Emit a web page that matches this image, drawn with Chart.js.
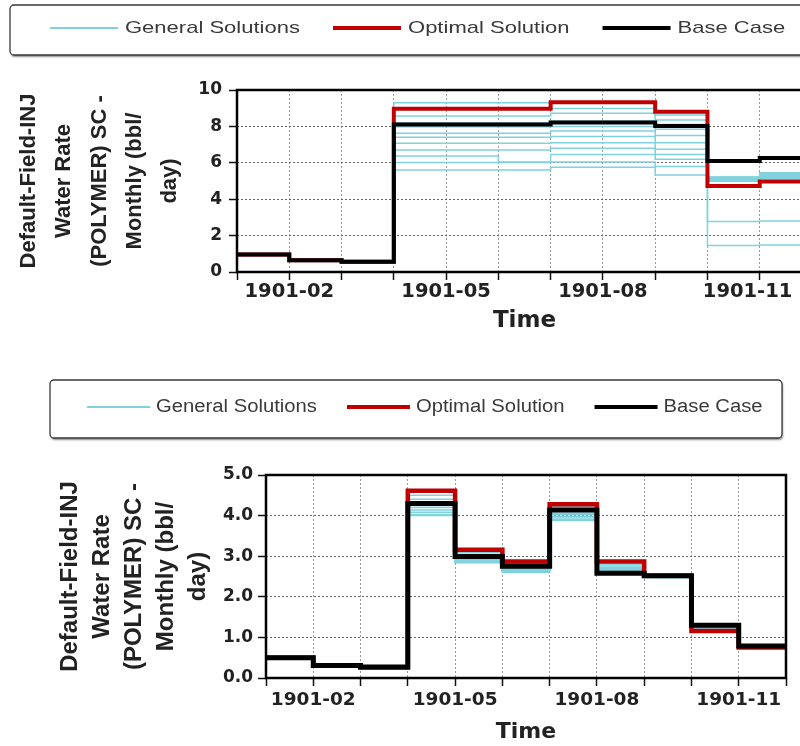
<!DOCTYPE html>
<html>
<head>
<meta charset="utf-8">
<script src="https://cdn.jsdelivr.net/npm/chart.js@4.4.1/dist/chart.umd.min.js"></script>
<style>
  html, body { margin: 0; padding: 0; background: #fff; overflow: hidden; width: 800px; height: 746px; }
  canvas { position: absolute; left: 0; }
  #upper { top: 0; }
  #lower { top: 370px; }
</style>
</head>
<body>
<canvas id="upper" width="840" height="345" style="width:840px;height:345px"></canvas>
<canvas id="lower" width="800" height="376" style="width:800px;height:376px"></canvas>
<script>
// ---- axis labels and names ----
const months = ['1901-01', '1901-02', '1901-03', '1901-04', '1901-05', '1901-06',
                '1901-07', '1901-08', '1901-09', '1901-10', '1901-11', '1901-12'];
const labeledMonths = ['1901-02', '1901-05', '1901-08', '1901-11'];
const legendNames = ['General Solutions', 'Optimal Solution', 'Base Case'];
const yTitleLines = ['Default-Field-INJ', 'Water Rate', '(POLYMER) SC -', 'Monthly (bbl/', 'day)'];
const xTitleText = 'Time';

// ---- upper panel: monthly rates, Jan..Nov (bbl/day) ----
const upperBase    = [0.96, 0.65, 0.57, 8.10, 8.10, 8.10, 8.22, 8.22, 8.02, 6.10, 6.27];
const upperOptimal = [0.96, 0.65, 0.57, 8.97, 8.97, 8.97, 9.33, 9.33, 8.80, 4.73, 4.97];
const upperGeneral = [
  [0.96, 0.65, 0.57, 9.30, 9.30, 9.30, 8.98, 8.98, 8.62, 5.20, 5.40],
  [0.96, 0.65, 0.57, 8.57, 8.57, 8.57, 8.72, 8.72, 8.35, 5.10, 5.30],
  [0.96, 0.65, 0.57, 8.20, 8.20, 8.20, 8.30, 8.30, 8.10, 5.22, 5.45],
  [0.96, 0.65, 0.57, 7.98, 7.98, 7.98, 8.00, 8.00, 7.85, 5.05, 5.25],
  [0.96, 0.65, 0.57, 7.62, 7.62, 7.62, 7.75, 7.75, 7.50, 5.00, 5.20],
  [0.96, 0.65, 0.57, 7.40, 7.40, 7.40, 7.45, 7.45, 7.10, 5.15, 5.35],
  [0.96, 0.65, 0.57, 7.07, 7.07, 7.07, 7.10, 7.10, 6.75, 4.98, 5.12],
  [0.96, 0.65, 0.57, 6.70, 6.70, 6.70, 6.80, 6.80, 6.45, 5.08, 5.18],
  [0.96, 0.65, 0.57, 6.37, 6.37, 6.05, 6.45, 6.45, 6.20, 5.12, 5.28],
  [0.96, 0.65, 0.57, 6.01, 6.01, 6.01, 6.05, 6.05, 5.80, 2.77, 2.80],
  [0.96, 0.65, 0.57, 5.60, 5.60, 5.60, 5.75, 5.75, 5.33, 1.45, 1.48]
];

// ---- lower panel: monthly rates, Jan..Nov (bbl/day) ----
const lowerBase    = [0.50, 0.31, 0.27, 4.30, 2.99, 2.75, 4.14, 2.58, 2.52, 1.30, 0.79];
const lowerOptimal = [0.50, 0.30, 0.26, 4.61, 3.16, 2.87, 4.28, 2.87, 2.52, 1.16, 0.75];
const lowerGeneral = [
  [0.50, 0.31, 0.27, 4.50, 3.10, 2.82, 4.22, 2.80, 2.53, 1.22, 0.78],
  [0.50, 0.31, 0.27, 4.40, 3.05, 2.78, 4.10, 2.76, 2.51, 1.20, 0.76],
  [0.50, 0.31, 0.27, 4.25, 2.95, 2.70, 4.06, 2.70, 2.49, 1.26, 0.80],
  [0.50, 0.31, 0.27, 4.20, 2.92, 2.68, 4.02, 2.72, 2.50, 1.25, 0.80],
  [0.50, 0.31, 0.27, 4.14, 2.90, 2.65, 3.98, 2.68, 2.49, 1.27, 0.78],
  [0.50, 0.31, 0.27, 4.08, 2.88, 2.63, 3.94, 2.65, 2.48, 1.24, 0.77],
  [0.50, 0.31, 0.27, 4.03, 2.86, 2.62, 3.90, 2.62, 2.50, 1.28, 0.79],
  [0.50, 0.31, 0.27, 4.00, 2.84, 2.60, 3.88, 2.60, 2.47, 1.29, 0.81]
];

// ---- styling ----
const GENERAL_COLOR = '#7fd2de';
const OPTIMAL_COLOR = '#c00000';
const BASE_COLOR = '#000000';
const TEXT_COLOR = '#222222';

// Each month's value is held until the next month starts.
function stepPoints(values) {
  const pts = values.map((v, i) => ({ x: i, y: v }));
  pts.push({ x: values.length, y: values[values.length - 1] });
  return pts;
}

// Frame around the plot plus the boxed legend above it.
const panelDecor = {
  id: 'panelDecor',
  afterDraw(chart, args, opts) {
    const ctx = chart.ctx;
    const a = chart.chartArea;
    ctx.save();
    ctx.lineWidth = opts.frameWidth;
    ctx.strokeStyle = '#000';
    ctx.strokeRect(a.left, a.top, a.right - a.left, a.bottom - a.top);
    ctx.restore();

    const L = opts.legend;
    const [bx, by, bw, bh] = L.box;
    const r = 4;
    ctx.save();
    ctx.beginPath();
    ctx.moveTo(bx + r, by);
    ctx.arcTo(bx + bw, by, bx + bw, by + bh, r);
    ctx.arcTo(bx + bw, by + bh, bx, by + bh, r);
    ctx.arcTo(bx, by + bh, bx, by, r);
    ctx.arcTo(bx, by, bx + bw, by, r);
    ctx.closePath();
    ctx.shadowColor = 'rgba(0,0,0,0.45)';
    ctx.shadowOffsetX = 1;
    ctx.shadowOffsetY = 2;
    ctx.shadowBlur = 2;
    ctx.fillStyle = '#fff';
    ctx.fill();
    ctx.shadowColor = 'transparent';
    ctx.lineWidth = 1.3;
    ctx.strokeStyle = '#3a3a3a';
    ctx.stroke();

    const ds = chart.data.datasets;
    const samples = [
      ds.find(d => d.role === 'general'),
      ds.find(d => d.role === 'optimal'),
      ds.find(d => d.role === 'base')
    ];
    let x = L.start;
    samples.forEach((d, i) => {
      ctx.beginPath();
      ctx.moveTo(x, L.y);
      ctx.lineTo(x + L.lineLen, L.y);
      ctx.lineWidth = d.role === 'general' ? 2 : 4;
      ctx.strokeStyle = d.borderColor;
      ctx.stroke();
      x += L.lineLen + L.gap;
      ctx.save();
      ctx.translate(x, L.y);
      ctx.scale(L.sx, 1);
      ctx.font = L.font + 'px "Liberation Sans", Arial, sans-serif';
      ctx.fillStyle = '#3a3a3a';
      ctx.textBaseline = 'middle';
      ctx.fillText(legendNames[i], 0, 0);
      const w = ctx.measureText(legendNames[i]).width * L.sx;
      ctx.restore();
      x += w + L.spacing;
    });
    ctx.restore();
  }
};

function makePanel(canvasId, base, optimal, general, p) {
  const datasets = [
    { role: 'base', label: legendNames[2], data: stepPoints(base), borderColor: BASE_COLOR,
      borderWidth: p.baseWidth, order: 0 },
    { role: 'optimal', label: legendNames[1], data: stepPoints(optimal), borderColor: OPTIMAL_COLOR,
      borderWidth: p.optWidth, order: 1 }
  ];
  general.forEach((g, i) => datasets.push({
    role: 'general', label: legendNames[0], data: stepPoints(g), borderColor: GENERAL_COLOR,
    borderWidth: 1.5, order: 2
  }));
  datasets.forEach(d => {
    d.stepped = 'before';
    d.pointRadius = 0;
    d.fill = false;
    d.borderJoinStyle = 'miter';
    d.borderCapStyle = 'butt';
  });

  return new Chart(document.getElementById(canvasId), {
    type: 'line',
    data: { datasets },
    plugins: [panelDecor],
    options: {
      responsive: false,
      animation: false,
      events: [],
      layout: { padding: p.pad },
      plugins: {
        legend: { display: false },
        tooltip: { enabled: false },
        panelDecor: { frameWidth: 2.5, legend: p.legend }
      },
      scales: {
        x: {
          type: 'linear', min: 0, max: months.length - 1,
          afterFit: s => { s.height = p.xHeight; },
          border: { display: false, dash: [2, 2] },
          grid: { color: '#9a9a9a', lineWidth: 1, tickLength: 8, tickColor: '#111', tickWidth: 1.5 },
          ticks: {
            stepSize: 1, autoSkip: false, maxRotation: 0, padding: p.xTickPad, color: TEXT_COLOR,
            font: { family: '"DejaVu Sans", sans-serif', weight: 'bold', size: p.xTickFont },
            callback: v => {
              if (!labeledMonths.includes(months[v])) return '';
              // the last label is nudged left so it stays inside the page edge
              return v === p.nudgeIndex ? months[v] + '   \u2009' : months[v];
            }
          },
          title: {
            display: true, text: xTitleText, color: TEXT_COLOR, padding: { top: 0, bottom: 0 },
            font: { family: '"DejaVu Sans", sans-serif', weight: 'bold', size: p.xTitleFont }
          }
        },
        y: {
          min: 0, max: p.yMax,
          afterFit: s => { s.width = p.yWidth; },
          border: { display: false, dash: [2, 2] },
          grid: { color: '#666666', lineWidth: 1, tickLength: 8, tickColor: '#111', tickWidth: 1.5 },
          ticks: {
            stepSize: p.yStep, padding: p.yTickPad, color: TEXT_COLOR,
            font: { family: '"DejaVu Sans", sans-serif', weight: 'bold', size: p.yTickFont },
            callback: p.yFormat
          },
          title: {
            display: true, text: yTitleLines, color: TEXT_COLOR,
            padding: { top: p.yTitlePad, bottom: 0 },
            font: { family: '"Liberation Sans", Arial, sans-serif', weight: 'bold',
                    size: p.yTitleFont, lineHeight: p.yTitleLH }
          }
        }
      }
    }
  });
}

makePanel('upper', upperBase, upperOptimal, upperGeneral, {
  pad: { top: 90, right: 28, bottom: 10, left: 0 },
  yWidth: 237, xHeight: 63, yMax: 10, yStep: 1,
  yFormat: v => (v % 2 === 0 ? String(v) : ''),
  yTickFont: 17, xTickFont: 19.5, xTickPad: 0, yTickPad: 7, nudgeIndex: 10,
  xTitleFont: 23, yTitleFont: 22, yTitleLH: 1.61, yTitlePad: 11,
  baseWidth: 4, optWidth: 4,
  legend: { box: [10, 5, 820, 50], y: 28, start: 50, lineLen: 68, gap: 7, spacing: 33, font: 17, sx: 1.295 }
});

makePanel('lower', lowerBase, lowerOptimal, lowerGeneral, {
  pad: { top: 105, right: 14, bottom: 1, left: 0 },
  yWidth: 266, xHeight: 67, yMax: 5, yStep: 0.5,
  yFormat: v => (Number.isInteger(v) ? v.toFixed(1) : ''),
  yTickFont: 17, xTickFont: 18.5, xTickPad: 3, yTickPad: 5, nudgeIndex: -1,
  xTitleFont: 22, yTitleFont: 24, yTitleLH: 1.333, yTitlePad: 54,
  baseWidth: 5, optWidth: 4.5,
  legend: { box: [50, 10, 732, 58], y: 37, start: 87, lineLen: 63, gap: 6, spacing: 30, font: 18, sx: 1.125 }
});
</script>
</body>
</html>
